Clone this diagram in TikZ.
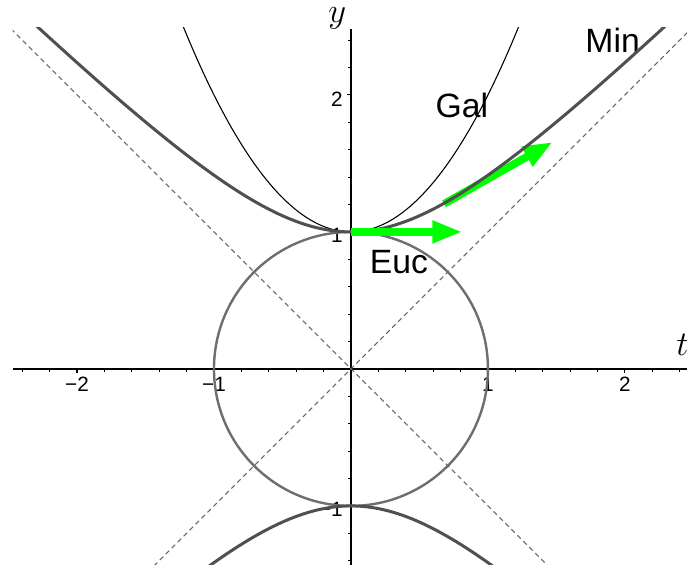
\documentclass[tikz,border=0pt]{standalone}
\usepackage{fontspec}
\setmainfont{Liberation Sans}
\usetikzlibrary{arrows.meta}
\definecolor{vecgreen}{RGB}{0,255,0}
\definecolor{mincol}{RGB}{80,80,80}
\definecolor{euccol}{RGB}{110,110,110}
\definecolor{diagcol}{RGB}{100,100,100}
\begin{document}
\begin{tikzpicture}[x=2cm,y=2cm,
  axis/.style={black,line width=0.5pt},
  tickmark/.style={black,line width=0.45pt},
  ticklabel/.style={font=\fontsize{8.6}{9}\selectfont,inner sep=0pt},
  curvelabel/.style={font=\fontsize{14}{16}\selectfont,inner sep=0pt},
  axislabel/.style={font=\fontsize{15.5}{18}\selectfont,inner sep=0pt},
  diag/.style={diagcol,line width=0.45pt,dash pattern=on 2pt off 1.5pt},
  mink/.style={mincol,line width=1.25pt},
  euc/.style={euccol,line width=1pt},
  gal/.style={black,line width=0.45pt},
  vec/.style={vecgreen,line width=3.2pt,-{Triangle[length=12.4pt,width=8.7pt]}}]
\useasboundingbox (-2.562,-1.431) rectangle (2.453,2.693);
% axes
\coordinate (xl) at (-2.47,0);
\coordinate (xr) at (2.46,0);
\coordinate (yb) at (0,-1.44);
\coordinate (yt) at (0,2.48);
\draw[axis] (xl) -- (xr);
\draw[axis] (yb) -- (yt);
% x ticks
\foreach \i in {-12,...,-1,1,2,...,12}{
  \pgfmathtruncatemacro{\m}{mod(abs(\i),5)}
  \ifnum\m=0
    \draw[tickmark] (\i/5,0) -- ++(0,-1.7pt);
  \else
    \draw[tickmark] (\i/5,0) -- ++(0,-1.1pt);
  \fi
}
% y ticks
\foreach \i in {-7,...,-1,1,2,...,12}{
  \pgfmathtruncatemacro{\m}{mod(abs(\i),5)}
  \ifnum\m=0
    \draw[tickmark] (0,\i/5) -- ++(-1.7pt,0);
  \else
    \draw[tickmark] (0,\i/5) -- ++(-1.1pt,0);
  \fi
}
% tick labels
\node[ticklabel,anchor=north] (lxm2) at ([yshift=-3.2pt]-2,0) {−2};
\node[ticklabel,anchor=north] (lxm1) at ([yshift=-3.2pt]-1,0) {−1};
\node[ticklabel,anchor=north] (lx1) at ([yshift=-3.2pt]1,0) {1};
\node[ticklabel,anchor=north] (lx2) at ([yshift=-3.2pt]2,0) {2};
\node[ticklabel,anchor=east] (ly2) at ([xshift=-3.3pt,yshift=-1.8pt]0,2) {2};
\node[ticklabel,anchor=east] (ly1) at ([xshift=-3.3pt,yshift=-1.5pt]0,1) {1};
\node[ticklabel,anchor=east] (lym1) at ([xshift=-3.3pt,yshift=-1.5pt]0,-1) {−1};
% axis labels
\node[axislabel] (tlab) at (2.42,0.175) {$t$};
\node[axislabel] (ylab) at (-0.10,2.555) {$y$};
% curve labels
\node[curvelabel] (gallab) at (0.81,1.92) {Gal};
\node[curvelabel] (euclab) at (0.35,0.78) {Euc};
\node[curvelabel] (minlab) at (1.91,2.40) {Min};
% vectors and curves
\coordinate (v2a) at (0.68,1.205);
\coordinate (v2b) at (1.474,1.657);
\coordinate (v1a) at (0,1);
\coordinate (v1b) at (0.813,1);
\begin{scope}
\clip (-2.47,-1.44) rectangle (2.46,2.49);
\draw[diag] (-2.7,-2.7) -- (2.7,2.7);
\draw[diag] (-2.7,2.7) -- (2.7,-2.7);
\draw[vec] (v2a) -- (v2b);
\draw[euc] (0,0) circle (1);
\draw[gal] plot[domain=-1.3:1.3,samples=121,smooth] (\x,{1+\x*\x});
\draw[mink] plot[domain=-2.5:2.5,samples=151,smooth] (\x,{sqrt(1+\x*\x)});
\draw[mink] plot[domain=-1.2:1.2,samples=81,smooth] (\x,{-sqrt(1+\x*\x)});
\end{scope}
\draw[vec] (v1a) -- (v1b);
\end{tikzpicture}
\end{document}
